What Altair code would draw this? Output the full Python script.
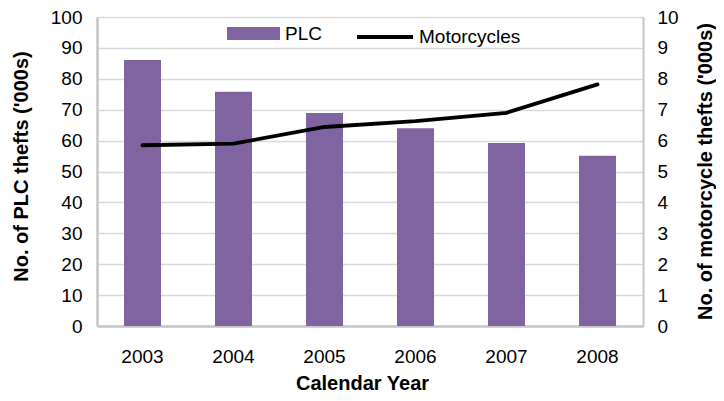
import altair as alt
import pandas as pd

years = ["2003", "2004", "2005", "2006", "2007", "2008"]
plc_thefts = [86.1, 75.8, 68.9, 64.0, 59.2, 55.1]
moto_thefts = [5.85, 5.90, 6.44, 6.63, 6.90, 7.82]

df = pd.DataFrame({
    "year": years,
    "plc": plc_thefts,
    "moto": moto_thefts,
    "s1": ["PLC"] * len(years),
    "s2": ["Motorcycles"] * len(years),
})

FONT = "Liberation Sans"
GRAY = "#c6c6c6"

x = alt.X("year:N", title="Calendar Year",
          scale=alt.Scale(paddingInner=0, paddingOuter=0),
          axis=alt.Axis(labelAngle=0, labelFontSize=19, labelPadding=36,
                        labelBaseline="alphabetic", ticks=False,
                        domainColor=GRAY, domainWidth=2.5,
                        titleFontSize=20, titleFontWeight="bold",
                        titleX=265, titleY=63, titleBaseline="alphabetic"))

bars = alt.Chart(df).mark_bar(size=37).encode(
    x=x,
    y=alt.Y("plc:Q", title="No. of PLC thefts ('000s)",
            scale=alt.Scale(domain=[0, 100], nice=False),
            axis=alt.Axis(values=list(range(0, 101, 10)), labelFontSize=19,
                          labelPadding=15, ticks=False, grid=True,
                          gridColor="#d9d9d9", gridWidth=1.3,
                          domainColor=GRAY, domainWidth=2.5,
                          titleFontSize=20, titleFontWeight="bold",
                          titleBaseline="alphabetic", titleX=-70, titleY=149,
                          titleAngle=270)),
    fill=alt.Fill("s1:N", scale=alt.Scale(domain=["PLC"], range=["#8064A2"]),
                  legend=alt.Legend(title=None, orient="none", legendX=130, legendY=-10,
                                    symbolType="M-1,-0.245L1,-0.245L1,0.245L-1,0.245Z",
                                    symbolSize=2809, symbolStrokeWidth=0,
                                    labelFontSize=19, labelOffset=5, padding=0)),
)

line = alt.Chart(df).mark_line(strokeWidth=3.8, strokeCap="round").encode(
    x=alt.X("year:N", scale=alt.Scale(paddingInner=0, paddingOuter=0)),
    y=alt.Y("moto:Q", title="No. of motorcycle thefts ('000s)",
            scale=alt.Scale(domain=[0, 10], nice=False),
            axis=alt.Axis(orient="right", values=list(range(0, 11)), labelFontSize=19,
                          labelPadding=14, ticks=False, grid=False,
                          domainColor=GRAY, domainWidth=2,
                          titleFontSize=20, titleFontWeight="bold",
                          titleBaseline="alphabetic", titleX=68, titleY=154,
                          titleAngle=270)),
    stroke=alt.Stroke("s2:N", scale=alt.Scale(domain=["Motorcycles"], range=["#000000"]),
                      legend=alt.Legend(title=None, orient="none", legendX=258, legendY=-10,
                                        symbolType="stroke", symbolSize=3136,
                                        symbolStrokeWidth=4,
                                        labelFontSize=19, labelOffset=4, padding=0)),
)

chart = alt.layer(bars, line).resolve_scale(
    y="independent", fill="independent", stroke="independent"
).properties(
    width=546, height=309,
    autosize=alt.AutoSizeParams(type="none"),
    padding={"left": 89, "top": 9, "right": 73, "bottom": 67},
).configure(font=FONT).configure_axis(
    labelColor="#000000", titleColor="#000000", labelFont=FONT, titleFont=FONT
).configure_legend(labelFont=FONT, labelColor="#000000").configure_view(
    stroke=None
)

chart.save("out.html", embed_options={"renderer": "svg", "actions": False})
